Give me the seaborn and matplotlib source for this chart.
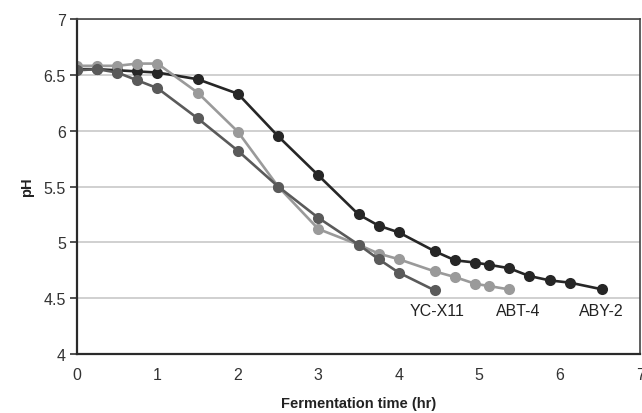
import matplotlib
matplotlib.use("Agg")
import matplotlib.pyplot as plt
import seaborn as sns
import pandas as pd

aby2_time = [0, 0.25, 0.5, 0.75, 1.0, 1.5, 2.0, 2.5, 3.0, 3.5, 3.75, 4.0, 4.45, 4.7, 4.95, 5.12, 5.37, 5.62, 5.88, 6.13, 6.53]
aby2_ph = [6.55, 6.55, 6.54, 6.53, 6.52, 6.46, 6.33, 5.95, 5.60, 5.25, 5.15, 5.09, 4.92, 4.84, 4.82, 4.80, 4.77, 4.70, 4.66, 4.64, 4.58]

abt4_time = [0, 0.25, 0.5, 0.75, 1.0, 1.5, 2.0, 2.5, 3.0, 3.5, 3.75, 4.0, 4.45, 4.7, 4.95, 5.12, 5.37]
abt4_ph = [6.58, 6.58, 6.58, 6.60, 6.60, 6.34, 5.99, 5.50, 5.12, 4.98, 4.90, 4.85, 4.74, 4.69, 4.63, 4.61, 4.58]

ycx11_time = [0, 0.25, 0.5, 0.75, 1.0, 1.5, 2.0, 2.5, 3.0, 3.5, 3.75, 4.0, 4.45]
ycx11_ph = [6.54, 6.55, 6.52, 6.45, 6.38, 6.11, 5.82, 5.50, 5.22, 4.98, 4.85, 4.73, 4.57]

series_names = ["YC-X11", "ABT-4", "ABY-2"]
series_colors = ["#5a5a5a", "#9a9a9a", "#262626"]
label_x = [4.48, 5.48, 6.52]
label_y = 4.39

x_ticks = [0, 1, 2, 3, 4, 5, 6, 7]
y_ticks = [4, 4.5, 5, 5.5, 6, 6.5, 7]
y_ticklabels = ["4", "4.5", "5", "5.5", "6", "6.5", "7"]

frames = []
for name, t, p in [("YC-X11", ycx11_time, ycx11_ph), ("ABT-4", abt4_time, abt4_ph), ("ABY-2", aby2_time, aby2_ph)]:
    frames.append(pd.DataFrame({"time": t, "pH": p, "strain": name}))
df = pd.concat(frames, ignore_index=True)

sns.set_style("white")
plt.rcParams["font.family"] = ["Liberation Sans", "DejaVu Sans"]

fig = plt.figure(figsize=(6.42, 4.14), dpi=100)
ax = fig.add_axes([0.12, 0.142, 0.877, 0.81])

ax.set_axisbelow(True)
ax.yaxis.grid(True, color="#c8c8c8", linewidth=1.2)
ax.xaxis.grid(False)

sns.lineplot(data=df, x="time", y="pH", hue="strain", hue_order=["ABY-2", "ABT-4", "YC-X11"],
             palette=dict(zip(series_names, series_colors)), marker="o", markersize=8,
             markeredgewidth=0, linewidth=1.9, sort=False, estimator=None, legend=False, ax=ax)

for name, col, lx in zip(series_names, series_colors, label_x):
    ax.text(lx, label_y, name, ha="center", va="center", fontsize=11.5, color="#222222")

ax.set_xlim(0, 7)
ax.set_ylim(4, 7)
ax.set_xticks(x_ticks)
ax.set_xticklabels([str(v) for v in x_ticks])
ax.set_yticks(y_ticks)
ax.set_yticklabels(y_ticklabels)
ax.tick_params(axis="y", which="both", left=True, length=5, width=1.2, color="#333333", labelsize=11.5, labelcolor="#333333", pad=3)
ax.tick_params(axis="x", which="both", bottom=False, length=0, labelsize=11.5, labelcolor="#333333", pad=9)

for s in ["left", "bottom"]:
    ax.spines[s].set_color("#2a2a2a")
    ax.spines[s].set_linewidth(1.6)
for s in ["top", "right"]:
    ax.spines[s].set_color("#444444")
    ax.spines[s].set_linewidth(1.2)

ax.set_xlabel("Fermentation time (hr)", fontsize=10.5, fontweight="bold", color="#222222", labelpad=10)
ax.set_ylabel("pH", fontsize=10.5, fontweight="bold", color="#222222", labelpad=7)

fig.savefig("out.png", dpi=100)
